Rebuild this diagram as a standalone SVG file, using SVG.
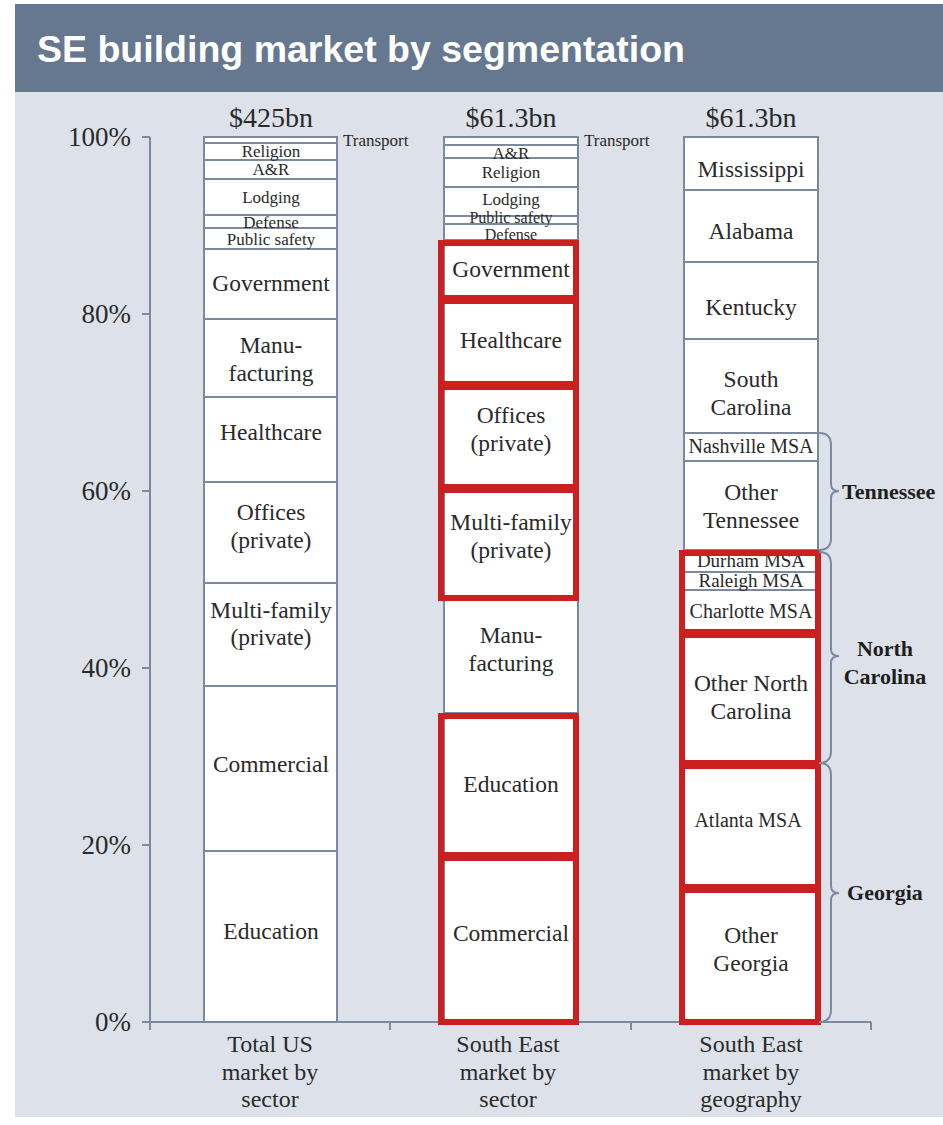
<svg xmlns="http://www.w3.org/2000/svg" width="943" height="1125" viewBox="0 0 943 1125">
<style>
.t{font-family:"Liberation Serif","Times New Roman",serif;fill:#2a2a2a;text-anchor:middle}
.m{font-size:23.5px}
.s{font-size:17px}
.q{font-size:20px}
.b{font-size:22px;font-weight:bold;fill:#1e1e1e}
.ax{font-size:27px;text-anchor:end}
.hd{font-size:28px}
.xl{font-size:24px}
.seg{fill:#ffffff;stroke:#7b8aa0;stroke-width:2}
.red{fill:none;stroke:#cc1f1f;stroke-width:6}
.ln{fill:none;stroke:#7b8aa0;stroke-width:2}
</style>
<rect x="0" y="0" width="943" height="1125" fill="#ffffff"/>
<rect x="15" y="92" width="928" height="1025" fill="#dde2ea"/>
<g id="title">
<rect x="15" y="4" width="928" height="88" fill="#66788f"/>
<text x="37" y="62" style="font-family:'Liberation Sans',Arial,sans-serif;font-size:37.5px;font-weight:bold;fill:#ffffff">SE building market by segmentation</text>
</g>
<g id="axes">
<path class="ln" d="M150,137 V1022 M142,137 H150 M142,314 H150 M142,491 H150 M142,668 H150 M142,845 H150 M142,1022 H871 M150,1022 V1030 M390,1022 V1030 M631,1022 V1030 M871,1022 V1030"/>
<text class="t ax" x="131" y="146">100%</text>
<text class="t ax" x="131" y="323">80%</text>
<text class="t ax" x="131" y="500">60%</text>
<text class="t ax" x="131" y="677">40%</text>
<text class="t ax" x="131" y="854">20%</text>
<text class="t ax" x="131" y="1031">0%</text>
</g>
<g id="bar1">
<text class="t hd" x="271" y="127">$425bn</text>
<rect class="seg" x="204" y="137" width="133" height="6"/>
<rect class="seg" x="204" y="143" width="133" height="17"/>
<rect class="seg" x="204" y="160" width="133" height="19"/>
<rect class="seg" x="204" y="179" width="133" height="36"/>
<rect class="seg" x="204" y="215" width="133" height="13"/>
<rect class="seg" x="204" y="228" width="133" height="21"/>
<rect class="seg" x="204" y="249" width="133" height="70"/>
<rect class="seg" x="204" y="319" width="133" height="78"/>
<rect class="seg" x="204" y="397" width="133" height="85"/>
<rect class="seg" x="204" y="482" width="133" height="101"/>
<rect class="seg" x="204" y="583" width="133" height="103"/>
<rect class="seg" x="204" y="686" width="133" height="165"/>
<rect class="seg" x="204" y="851" width="133" height="171"/>
<text class="t s" x="343" y="146" style="text-anchor:start">Transport</text>
<text class="t s" x="271" y="157">Religion</text>
<text class="t s" x="271" y="175">A&amp;R</text>
<text class="t s" x="271" y="203">Lodging</text>
<text class="t s" x="271" y="228">Defense</text>
<text class="t s" x="271" y="245">Public safety</text>
<text class="t m" x="271" y="291">Government</text>
<text class="t m" x="271" y="353">Manu-</text>
<text class="t m" x="271" y="381">facturing</text>
<text class="t m" x="271" y="440">Healthcare</text>
<text class="t m" x="271" y="520">Offices</text>
<text class="t m" x="271" y="548">(private)</text>
<text class="t m" x="271" y="618">Multi-family</text>
<text class="t m" x="271" y="645">(private)</text>
<text class="t m" x="271" y="772">Commercial</text>
<text class="t m" x="271" y="939">Education</text>
<text class="t xl" x="270" y="1052">Total US</text>
<text class="t xl" x="270" y="1080">market by</text>
<text class="t xl" x="270" y="1107">sector</text>
</g>
<g id="bar2">
<text class="t hd" x="511" y="127">$61.3bn</text>
<rect class="seg" x="444" y="137" width="134" height="8"/>
<rect class="seg" x="444" y="145" width="134" height="13"/>
<rect class="seg" x="444" y="158" width="134" height="29"/>
<rect class="seg" x="444" y="187" width="134" height="29"/>
<rect class="seg" x="444" y="216" width="134" height="8"/>
<rect class="seg" x="444" y="224" width="134" height="16"/>
<rect class="seg" x="444" y="240" width="134" height="58"/>
<rect class="seg" x="444" y="298" width="134" height="86"/>
<rect class="seg" x="444" y="384" width="134" height="103"/>
<rect class="seg" x="444" y="487" width="134" height="111"/>
<rect class="seg" x="444" y="598" width="134" height="115"/>
<rect class="seg" x="444" y="713" width="134" height="142"/>
<rect class="seg" x="444" y="855" width="134" height="167"/>
<text class="t s" x="584" y="146" style="text-anchor:start">Transport</text>
<text class="t s" x="511" y="159">A&amp;R</text>
<text class="t s" x="511" y="178">Religion</text>
<text class="t s" x="511" y="205">Lodging</text>
<text class="t s" x="511" y="223" style="font-size:16px">Public safety</text>
<text class="t s" x="511" y="240" style="font-size:16px">Defense</text>
<text class="t m" x="511" y="277">Government</text>
<text class="t m" x="511" y="348">Healthcare</text>
<text class="t m" x="511" y="423">Offices</text>
<text class="t m" x="511" y="451">(private)</text>
<text class="t m" x="511" y="530">Multi-family</text>
<text class="t m" x="511" y="558">(private)</text>
<text class="t m" x="511" y="643">Manu-</text>
<text class="t m" x="511" y="671">facturing</text>
<text class="t m" x="511" y="792">Education</text>
<text class="t m" x="511" y="941">Commercial</text>
<rect class="red" x="441" y="243" width="135" height="55"/>
<rect class="red" x="441" y="301" width="135" height="83"/>
<rect class="red" x="441" y="387" width="135" height="100"/>
<rect class="red" x="441" y="490" width="135" height="108"/>
<rect class="red" x="441" y="716" width="135" height="139"/>
<rect class="red" x="441" y="858" width="135" height="164"/>
<text class="t xl" x="508" y="1052">South East</text>
<text class="t xl" x="508" y="1080">market by</text>
<text class="t xl" x="508" y="1107">sector</text>
</g>
<g id="bar3">
<text class="t hd" x="751" y="127">$61.3bn</text>
<rect class="seg" x="684" y="137" width="134" height="53"/>
<rect class="seg" x="684" y="190" width="134" height="72"/>
<rect class="seg" x="684" y="262" width="134" height="77"/>
<rect class="seg" x="684" y="339" width="134" height="94"/>
<rect class="seg" x="684" y="433" width="134" height="28"/>
<rect class="seg" x="684" y="461" width="134" height="89"/>
<rect class="seg" x="684" y="550" width="134" height="22"/>
<rect class="seg" x="684" y="572" width="134" height="18"/>
<rect class="seg" x="684" y="590" width="134" height="42"/>
<rect class="seg" x="684" y="632" width="134" height="131"/>
<rect class="seg" x="684" y="763" width="134" height="124"/>
<rect class="seg" x="684" y="887" width="134" height="135"/>
<text class="t m" x="751" y="177">Mississippi</text>
<text class="t m" x="751" y="239">Alabama</text>
<text class="t m" x="751" y="315">Kentucky</text>
<text class="t m" x="751" y="387">South</text>
<text class="t m" x="751" y="415">Carolina</text>
<text class="t q" x="751" y="453">Nashville MSA</text>
<text class="t m" x="751" y="500">Other</text>
<text class="t m" x="751" y="528">Tennessee</text>
<text class="t q" x="751" y="567" style="font-size:19px">Durham MSA</text>
<text class="t q" x="751" y="587" style="font-size:19px">Raleigh MSA</text>
<text class="t q" x="751" y="618">Charlotte MSA</text>
<text class="t m" x="751" y="691">Other North</text>
<text class="t m" x="751" y="719">Carolina</text>
<text class="t q" x="748" y="827">Atlanta MSA</text>
<text class="t m" x="751" y="943">Other</text>
<text class="t m" x="751" y="971">Georgia</text>
<rect class="red" x="682" y="553" width="136" height="79"/>
<rect class="red" x="682" y="635" width="136" height="128"/>
<rect class="red" x="682" y="766" width="136" height="121"/>
<rect class="red" x="682" y="890" width="136" height="132"/>
<text class="t xl" x="751" y="1052">South East</text>
<text class="t xl" x="751" y="1080">market by</text>
<text class="t xl" x="751" y="1107">geography</text>
</g>
<g id="connectors">
<path class="ln" d="M819,433 Q831,433 831,445 L831,484 Q831,491 839,491 Q831,491 831,498 L831,538 Q831,550 819,550"/>
<path class="ln" d="M819,552 Q831,552 831,564 L831,649 Q831,656 839,656 Q831,656 831,663 L831,751 Q831,763 819,763"/>
<path class="ln" d="M819,763 Q831,763 831,775 L831,886 Q831,893 839,893 Q831,893 831,900 L831,1010 Q831,1022 819,1022"/>
</g>
<g id="labels">
<text class="t b" x="842" y="499" style="text-anchor:start">Tennessee</text>
<text class="t b" x="885" y="656">North</text>
<text class="t b" x="885" y="684">Carolina</text>
<text class="t b" x="885" y="900">Georgia</text>
</g>
</svg>
